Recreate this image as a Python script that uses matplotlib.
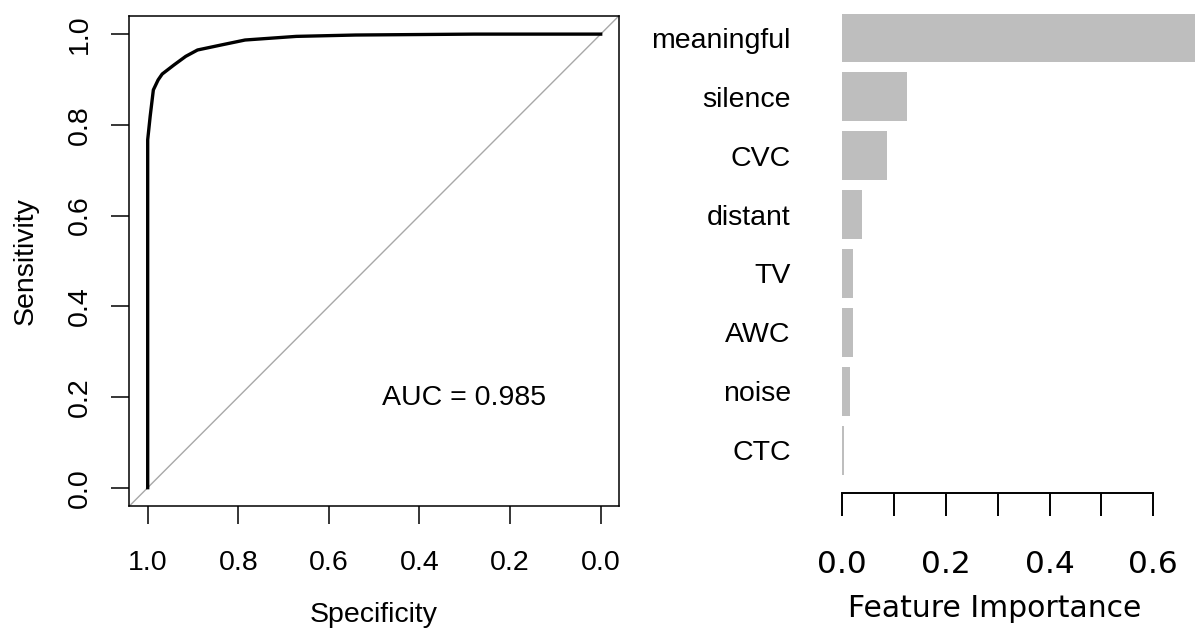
import matplotlib
matplotlib.use("Agg")
import matplotlib.pyplot as plt

# ROC curve (specificity runs 1 -> 0)
specificity = [1.0, 1.0, 0.9945, 0.9875, 0.977, 0.968, 0.942, 0.916, 0.89,
               0.838, 0.785, 0.672, 0.541, 0.279, 0.0]
sensitivity = [0.0, 0.767, 0.819, 0.877, 0.899, 0.912, 0.932, 0.951, 0.965,
               0.976, 0.987, 0.995, 0.998, 1.0, 1.0]
auc_value = 0.985
roc_ticks = [1.0, 0.8, 0.6, 0.4, 0.2, 0.0]

# feature importance, top to bottom
features = ["meaningful", "silence", "CVC", "distant", "TV", "AWC", "noise", "CTC"]
importance = [0.69, 0.124, 0.0855, 0.038, 0.021, 0.021, 0.0147, 0.0027]
imp_ticks = [0.0, 0.1, 0.2, 0.3, 0.4, 0.5, 0.6]
imp_labels = ["0.0", "", "0.2", "", "0.4", "", "0.6"]

W, H = 1195, 628
fig = plt.figure(figsize=(W / 100, H / 100), dpi=100)
arial = "Liberation Sans"
fs = 20.5

# ---- left: ROC
ax = fig.add_axes([129.3 / W, (H - 506) / H, (619 - 129.3) / W, (506 - 15.7) / H])
ax.plot(specificity, sensitivity, color="black", lw=2.4, solid_joinstyle="round")
ax.plot([1.04, -0.04], [-0.04, 1.04], color="#a8a8a8", lw=1.0, zorder=0)
ax.set_xlim(1.0406, -0.0404)
ax.set_ylim(-0.0404, 1.0406)
ax.set_xticks(roc_ticks)
ax.set_xticklabels(["%.1f" % t for t in roc_ticks])
ax.set_yticks(roc_ticks[::-1])
ax.set_yticklabels(["%.1f" % t for t in roc_ticks[::-1]])
for s in ax.spines.values():
    s.set_linewidth(1.1)
ax.tick_params(axis="x", length=13, width=1.1, pad=19, labelsize=fs)
ax.tick_params(axis="y", length=13, width=1.1, pad=13.5, labelsize=fs)
for lab in ax.get_xticklabels() + ax.get_yticklabels():
    lab.set_fontfamily(arial)
for lab in ax.get_yticklabels():
    lab.set_rotation(90)
    lab.set_va("center")
ax.set_xlabel("Specificity", fontsize=fs, fontfamily=arial, va="top")
ax.xaxis.set_label_coords(0.5, -0.196)
ax.set_ylabel("Sensitivity", fontsize=fs, fontfamily=arial, va="center")
ax.yaxis.set_label_coords(-0.211, 0.5)
ax.text(0.302, 0.197, "AUC = %.3f" % auc_value, fontsize=fs, fontfamily=arial,
        ha="center", va="center")

# ---- right: feature importance
bx = fig.add_axes([842.3 / W, (H - 492.7) / H, (W - 842.3) / W, 492.7 / H])
ypos = list(range(len(features) - 1, -1, -1))
bx.barh(ypos, importance, height=0.83, color="#bebebe", edgecolor="none")
bx.set_xlim(0, (W - 842.3) / 518.3)
bx.set_ylim(-0.723, 7.645)
for side in ["left", "top", "right"]:
    bx.spines[side].set_visible(False)
bx.spines["bottom"].set_bounds(0, 0.6)
bx.spines["bottom"].set_linewidth(1.4)
bx.set_xticks(imp_ticks)
bx.set_xticklabels(imp_labels)
bx.tick_params(axis="x", length=16.8, width=1.4, pad=24.5, labelsize=22.5)
for lab in bx.get_xticklabels():
    lab.set_fontfamily("DejaVu Sans")
bx.set_yticks(ypos)
bx.set_yticklabels(features)
bx.tick_params(axis="y", length=0, pad=37, labelsize=fs)
for lab in bx.get_yticklabels():
    lab.set_fontfamily(arial)
bx.set_xlabel("Feature Importance", fontsize=21.5, fontfamily="DejaVu Sans", va="top")
bx.xaxis.set_label_coords(0.433, -0.2056)

fig.savefig("out.png", dpi=100)
